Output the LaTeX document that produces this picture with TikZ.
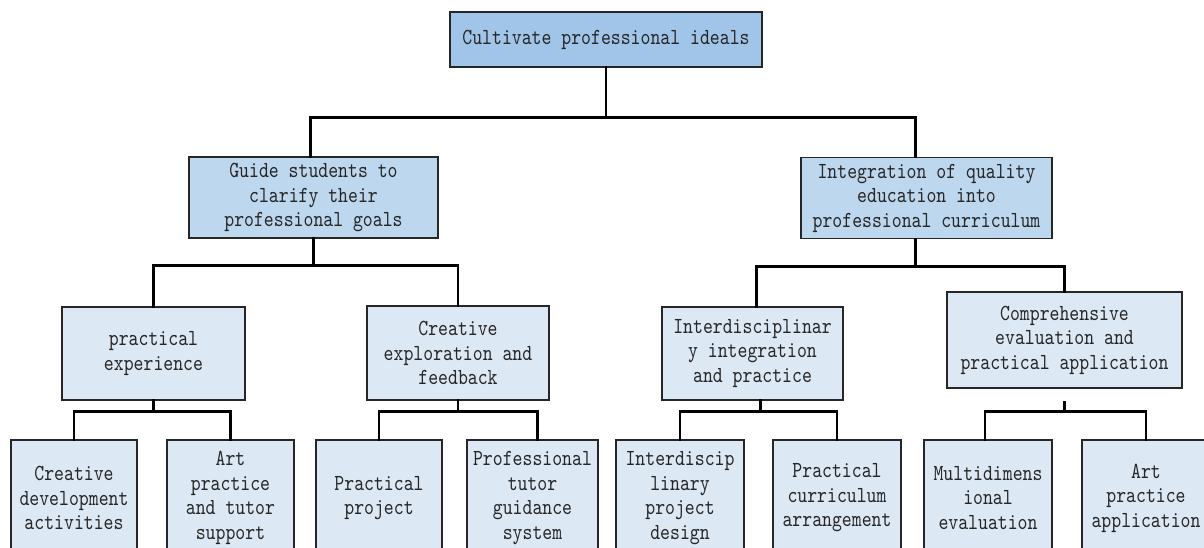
\documentclass[tikz,border=0pt]{standalone}
\usepackage{fontspec}
\setmonofont{lmmono10-regular.otf}[FakeStretch=0.82]
\usepackage{tikz}
\usetikzlibrary{positioning,calc}

\definecolor{rootblue}{RGB}{160,197,233}
\definecolor{midblue}{RGB}{189,215,238}
\definecolor{paleblue}{RGB}{221,232,245}

\begin{document}
\begin{tikzpicture}[
  x=1pt, y=1pt,
  every node/.style={font=\ttfamily\fontsize{23}{24.5}\selectfont, text=black!85},
  box/.style={draw=black!85, line width=1.6pt, align=center, inner sep=0pt},
  root/.style={box, fill=rootblue, minimum width=312, minimum height=55},
  goal/.style={box, fill=midblue, minimum height=81},
  part/.style={box, fill=paleblue},
  leaf/.style={box, fill=paleblue, minimum height=116},
  conn/.style={line width=2.8pt, line cap=rect}
]
\useasboundingbox (0,0) rectangle (1204,548);
\clip (0,0) rectangle (1204,548);

% top and second level
\node[root] (root) at (606,508.5) {Cultivate professional ideals};
\node[goal, minimum width=249] (guide) at (313.5,350.5)
  {Guide students to\\clarify their\\professional goals};
\node[goal, minimum width=251] (integ) at (926.5,350)
  {Integration of quality\\education into\\professional curriculum};

% third level
\node[part, minimum width=183, minimum height=93] (prac) at (153.5,194.5)
  {practical\\experience};
\node[part, minimum width=182, minimum height=94] (crea) at (458,195)
  {Creative\\exploration and\\feedback};
\node[part, minimum width=181, minimum height=93] (inter) at (752.5,194.5)
  {Interdisciplinar\\y integration\\and practice};
\node[part, minimum width=235, minimum height=96] (comp) at (1064.5,208)
  {Comprehensive\\evaluation and\\practical application};

% bottom level
\node[leaf, minimum width=126] (dev) at (74,50)
  {Creative\\development\\activities};
\node[leaf, minimum width=127] (art) at (230.5,50)
  {Art\\practice\\and tutor\\support};
\node[leaf, minimum width=126] (proj) at (379,50)
  {Practical\\project};
\node[leaf, minimum width=131] (tutor) at (532.5,50)
  {Professional\\tutor\\guidance\\system};
\node[leaf, minimum width=128] (idpd) at (680,50)
  {Interdiscip\\linary\\project\\design};
\node[leaf, minimum width=128] (curr) at (837,50)
  {Practical\\curriculum\\arrangement};
\node[leaf, minimum width=128] (multi) at (988,50)
  {Multidimens\\ional\\evaluation};
\node[leaf, minimum width=128] (apply) at (1146,50)
  {Art\\practice\\application};

% connectors
\draw[conn] (root.south) -- ++(0,-50) coordinate (j0);
\draw[conn] ([xshift=-3]guide.north) |- (j0) -| ([xshift=-11]integ.north);

\draw[conn] (guide.south) -- ++(0,-27) coordinate (j1);
\draw[conn] (prac.north) |- (j1) -| (crea.north);
\draw[conn] ([xshift=-11]integ.south) -- ++(0,-27) coordinate (j2);
\draw[conn] ([xshift=4]inter.north) |- (j2) -| (comp.north);

\draw[conn] (prac.south) -- ++(0,-11) coordinate (j3);
\draw[conn] (dev.north) |- (j3) -| (art.north);
\draw[conn] (crea.south) -- ++(0,-11) coordinate (j4);
\draw[conn] (proj.north) |- (j4) -| ([xshift=5]tutor.north);
\draw[conn] ([xshift=8]inter.south) -- ++(0,-11) coordinate (j5);
\draw[conn] (idpd.north) |- (j5) -| (curr.north);
\draw[conn] ([yshift=-14]comp.south) -- ++(0,-9) coordinate (j6);
\draw[conn] ([xshift=-3]multi.north) |- (j6) -| (apply.north);
\end{tikzpicture}
\end{document}
